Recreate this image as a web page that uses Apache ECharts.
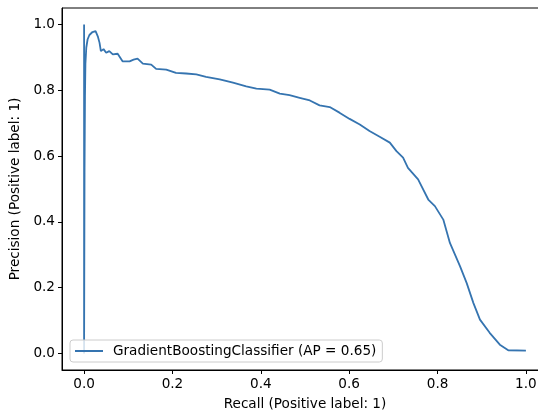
<!DOCTYPE html>
<html>
<head>
<meta charset="utf-8">
<script src="https://cdn.jsdelivr.net/npm/echarts@6/dist/echarts.min.js"></script>
<style>html,body{margin:0;padding:0;background:#fff}#c{width:538px;height:413px}</style>
</head>
<body>
<div id="c"></div>
<script>
const seriesName = 'GradientBoostingClassifier (AP = 0.65)';
const xTicks = [0, 0.2, 0.4, 0.6, 0.8, 1.0];
const yTicks = [0, 0.2, 0.4, 0.6, 0.8, 1.0];
const recall = [0, 0, 0.001, 0.002, 0.003, 0.005, 0.008, 0.012, 0.019, 0.026, 0.031, 0.035, 0.038, 0.044, 0.050, 0.057, 0.065, 0.076, 0.087, 0.103, 0.112, 0.121, 0.133, 0.152, 0.163, 0.186, 0.208, 0.231, 0.254, 0.276, 0.307, 0.337, 0.367, 0.390, 0.420, 0.443, 0.465, 0.488, 0.511, 0.533, 0.556, 0.578, 0.601, 0.624, 0.646, 0.669, 0.692, 0.707, 0.722, 0.733, 0.756, 0.779, 0.794, 0.813, 0.828, 0.851, 0.866, 0.881, 0.896, 0.918, 0.941, 0.960, 1.0];
const precision = [1.0, 0.0, 0.55, 0.78, 0.88, 0.93, 0.955, 0.968, 0.977, 0.980, 0.964, 0.944, 0.919, 0.925, 0.914, 0.919, 0.909, 0.911, 0.888, 0.888, 0.893, 0.896, 0.881, 0.878, 0.865, 0.863, 0.853, 0.851, 0.848, 0.841, 0.833, 0.823, 0.812, 0.805, 0.802, 0.790, 0.785, 0.777, 0.769, 0.754, 0.749, 0.732, 0.713, 0.696, 0.676, 0.659, 0.641, 0.615, 0.595, 0.564, 0.529, 0.468, 0.448, 0.407, 0.336, 0.265, 0.214, 0.154, 0.103, 0.063, 0.027, 0.010, 0.009];

const data = recall.map((r, i) => [r, precision[i]]);
const font = 'DejaVu Sans';
const fs = 13.6;
const chart = echarts.init(document.getElementById('c'), null, {renderer: 'canvas'});
const axisCommon = {
  type: 'value', min: -0.05, max: 1.05,
  axisLine: {show: true, onZero: false, lineStyle: {color: '#000', width: 1}},
  axisTick: {show: true, length: 4, lineStyle: {color: '#000', width: 1}},
  splitLine: {show: false},
  nameLocation: 'middle',
  nameTextStyle: {fontFamily: font, fontSize: fs, color: '#000'}
};
chart.setOption({
  animation: false,
  textStyle: {fontFamily: font},
  grid: {left: 62, top: 8, width: 486, height: 362, show: true, borderColor: '#000', borderWidth: 1, containLabel: false, outerBoundsMode: 'none'},
  xAxis: Object.assign({}, axisCommon, {
    name: 'Recall (Positive label: 1)', nameGap: 27,
    axisTick: Object.assign({}, axisCommon.axisTick, {customValues: xTicks}),
    axisLabel: {customValues: xTicks, formatter: v => v.toFixed(1), fontFamily: font, fontSize: fs, color: '#000', margin: 7}
  }),
  yAxis: Object.assign({}, axisCommon, {
    name: 'Precision (Positive label: 1)', nameGap: 32,
    axisTick: Object.assign({}, axisCommon.axisTick, {customValues: yTicks}),
    axisLabel: {customValues: yTicks, formatter: v => v.toFixed(1), fontFamily: font, fontSize: fs, color: '#000', margin: 7}
  }),
  legend: {
    left: 70, top: 340,
    itemWidth: 28, itemHeight: 14,
    padding: [4, 6, 4, 5],
    borderColor: '#cccccc', borderWidth: 1, borderRadius: 3,
    backgroundColor: 'rgba(255,255,255,0.8)',
    textStyle: {fontFamily: font, fontSize: fs, color: '#000', padding: [0, 0, 0, 5]},
    data: [{name: seriesName, icon: 'path://M0,6H28V8H0Z'}]
  },
  series: [{
    name: seriesName, type: 'line', data: data,
    showSymbol: false, symbol: 'none', clip: true,
    lineStyle: {color: '#3574b0', width: 1.8},
    itemStyle: {color: '#3574b0'}
  }]
});
</script>
</body>
</html>
